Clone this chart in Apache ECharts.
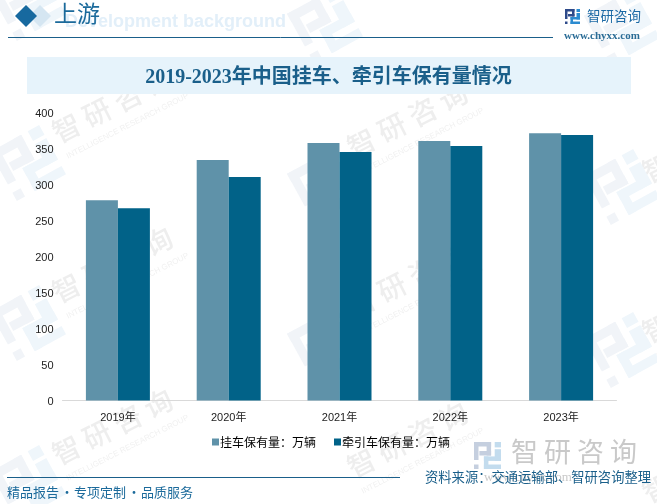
<!DOCTYPE html>
<html><head><meta charset="utf-8">
<style>html,body{margin:0;padding:0;background:#fff}#c{width:657px;height:504px}</style>
<script src="https://cdn.jsdelivr.net/npm/echarts@6/dist/echarts.min.js"></script>
</head><body><div id="c"></div>
<script>
const categories = ['2019年','2020年','2021年','2022年','2023年'];
const trailers = [278.7,334.5,358.2,361,372];
const tractors = [267.6,310.8,345.6,354,369.3];
const seriesNames = ['挂车保有量：万辆','牵引车保有量：万辆'];
const yTicks = {min:0,max:400,interval:50};
const titleText = '2019-2023年中国挂车、牵引车保有量情况';
const brandChars = ['智','研','咨','询'];
const footerParts = ['精品报告','·','专项定制','·','品质服务'];

const SERIF = '"Liberation Serif","Noto Sans CJK SC",serif';
const CJK = '"Noto Sans CJK SC",sans-serif';
const SANS = '"Liberation Sans","Noto Sans CJK SC",sans-serif';

function logo(x,y,size,rot,c1,c2,z){
  const s=size/30, r=(a,b,w,h,f)=>({type:'rect',shape:{x:a*s,y:b*s,width:w*s,height:h*s},style:{fill:f},z:z,silent:true});
  return {type:'group',x:x,y:y,rotation:rot,originX:size/2,originY:size/2,silent:true,children:[
    r(0,0,19,5,c1),r(14,0,5,15,c1),r(6,10,13,5,c1),r(0,0,5,20,c1),r(0,25,5,5,c1),
    r(23,0,7,6,c2),r(23,8,7,13,c2),r(11,16,19,5,c2),r(11,16,5,14,c2),r(11,25,19,5,c2)
  ]};
}
function watermark(cx,cy){
  return {type:'group',x:cx,y:cy,rotation:0.47,silent:true,children:[
    {type:'text',x:0,y:-6,z:0,silent:true,style:{text:'智 研 咨 询',font:'500 28px '+CJK,fill:'#eeeeee',align:'center',verticalAlign:'middle'}},
    {type:'text',x:4,y:20,z:0,silent:true,style:{text:'INTELLIGENCE RESEARCH GROUP',font:'8px '+SANS,fill:'#f1f1f1',align:'center',verticalAlign:'middle'}}
  ]};
}
const g=[];
[[115,110],[115,270],[115,432],[410,125],[410,285],[410,445],[705,150],[705,310],[705,470]].forEach(p=>g.push(watermark(p[0],p[1])));
[[28,3],[28,163],[28,323],[28,483],[325,25],[325,185],[325,345],[622,27],[622,187],[622,350]].forEach(p=>g.push(logo(p[0]-28,p[1]-28,56,0.5,'#f1f4f8','#eff6fb',0)));

// header
g.push({type:'rect',shape:{x:27,y:57,width:604,height:37},style:{fill:'#e6f3fb'},z:0,silent:true});
g.push({type:'polygon',shape:{points:[[40,5],[51,16],[40,27],[29,16]]},style:{fill:'#d5e6f2'},z:1});
g.push({type:'polygon',shape:{points:[[26,5],[37,16],[26,27],[15,16]]},style:{fill:'#17699f'},z:1});
g.push({type:'text',x:65,y:22,z:1,style:{text:'Development background',font:'bold 18px '+SANS,fill:'#e2eff9',align:'left',verticalAlign:'middle'}});
g.push({type:'text',x:54,y:16,z:1,style:{text:'上游',font:'23px '+SERIF,fill:'#1b6a9b',align:'left',verticalAlign:'middle'}});
g.push({type:'line',shape:{x1:8,y1:37.5,x2:553,y2:37.5},style:{stroke:'#1a5f8a',lineWidth:1},z:1});
g.push({type:'text',x:328.5,y:78,z:1,style:{text:titleText,font:'bold 20px '+SERIF,fill:'#1a5f8a',align:'center',verticalAlign:'middle'}});

// top right brand
g.push(logo(565,9,15,0,'#2e4a8a','#2b8bd0',1));
g.push({type:'text',x:587,y:16,z:1,style:{text:'智研咨询',font:'13.5px '+CJK,fill:'#1d6aa5',align:'left',verticalAlign:'middle'}});
g.push({type:'text',x:602,y:36,z:1,style:{text:'www.chyxx.com',font:'bold 11px '+SERIF,fill:'#2a6c96',align:'center',verticalAlign:'middle'}});

// footer
g.push({type:'line',shape:{x1:7,y1:477.5,x2:400,y2:477.5},style:{stroke:'#1a5f8a',lineWidth:1},z:1});
[7,60.5,74,127.5,141].forEach((x,i)=>g.push({type:'text',x:x,y:492,z:1,style:{text:footerParts[i],font:'13px '+CJK,fill:'#1b6a9b',align:'left',verticalAlign:'middle'}}));
g.push(logo(474,442,27,0,'#c5cfdf','#c3dcee',1));
brandChars.forEach((ch,i)=>g.push({type:'text',x:511+i*33,y:452,z:1,style:{text:ch,font:'27px '+CJK,fill:'#c9c9c9',align:'left',verticalAlign:'middle'}}));
g.push({type:'text',x:528,y:478,z:1,style:{text:'www.chyxx.com',font:'13px '+SERIF,fill:'#c9c9c9',align:'center',verticalAlign:'middle'}});
g.push({type:'text',x:425,y:477,z:2,style:{text:'资料来源：交通运输部、智研咨询整理',font:'13.3px '+CJK,fill:'#1a5f8a',align:'left',verticalAlign:'middle'}});

const chart=echarts.init(document.getElementById('c'),null,{renderer:'canvas'});
chart.setOption({
  animation:false,
  backgroundColor:'#fff',
  graphic:{elements:g},
  grid:{left:62.5,top:113,width:554,height:287.5,containLabel:false},
  color:['#5f92a9','#016288'],
  legend:{
    left:212,top:436,padding:0,itemWidth:7,itemHeight:7,itemGap:18,icon:'rect',
    data:seriesNames,
    textStyle:{fontFamily:CJK,fontSize:12,color:'#000',padding:[0,0,0,-4]}
  },
  xAxis:{type:'category',data:categories,
    axisLine:{lineStyle:{color:'#d9d9d9',width:1}},
    axisTick:{length:4,lineStyle:{color:'#d9d9d9'},alignWithLabel:false},
    axisLabel:{fontFamily:SANS,fontSize:11,color:'#222',margin:12}},
  yAxis:{type:'value',min:yTicks.min,max:yTicks.max,interval:yTicks.interval,
    axisLine:{show:false},axisTick:{show:false},splitLine:{show:false},
    axisLabel:{fontFamily:SANS,fontSize:11,color:'#222',margin:9,verticalAlign:'top',lineHeight:2}},
  series:[
    {name:seriesNames[0],type:'bar',data:trailers,barWidth:32,barGap:'0%'},
    {name:seriesNames[1],type:'bar',data:tractors,barWidth:32,barGap:'0%'}
  ]
});
</script></body></html>
